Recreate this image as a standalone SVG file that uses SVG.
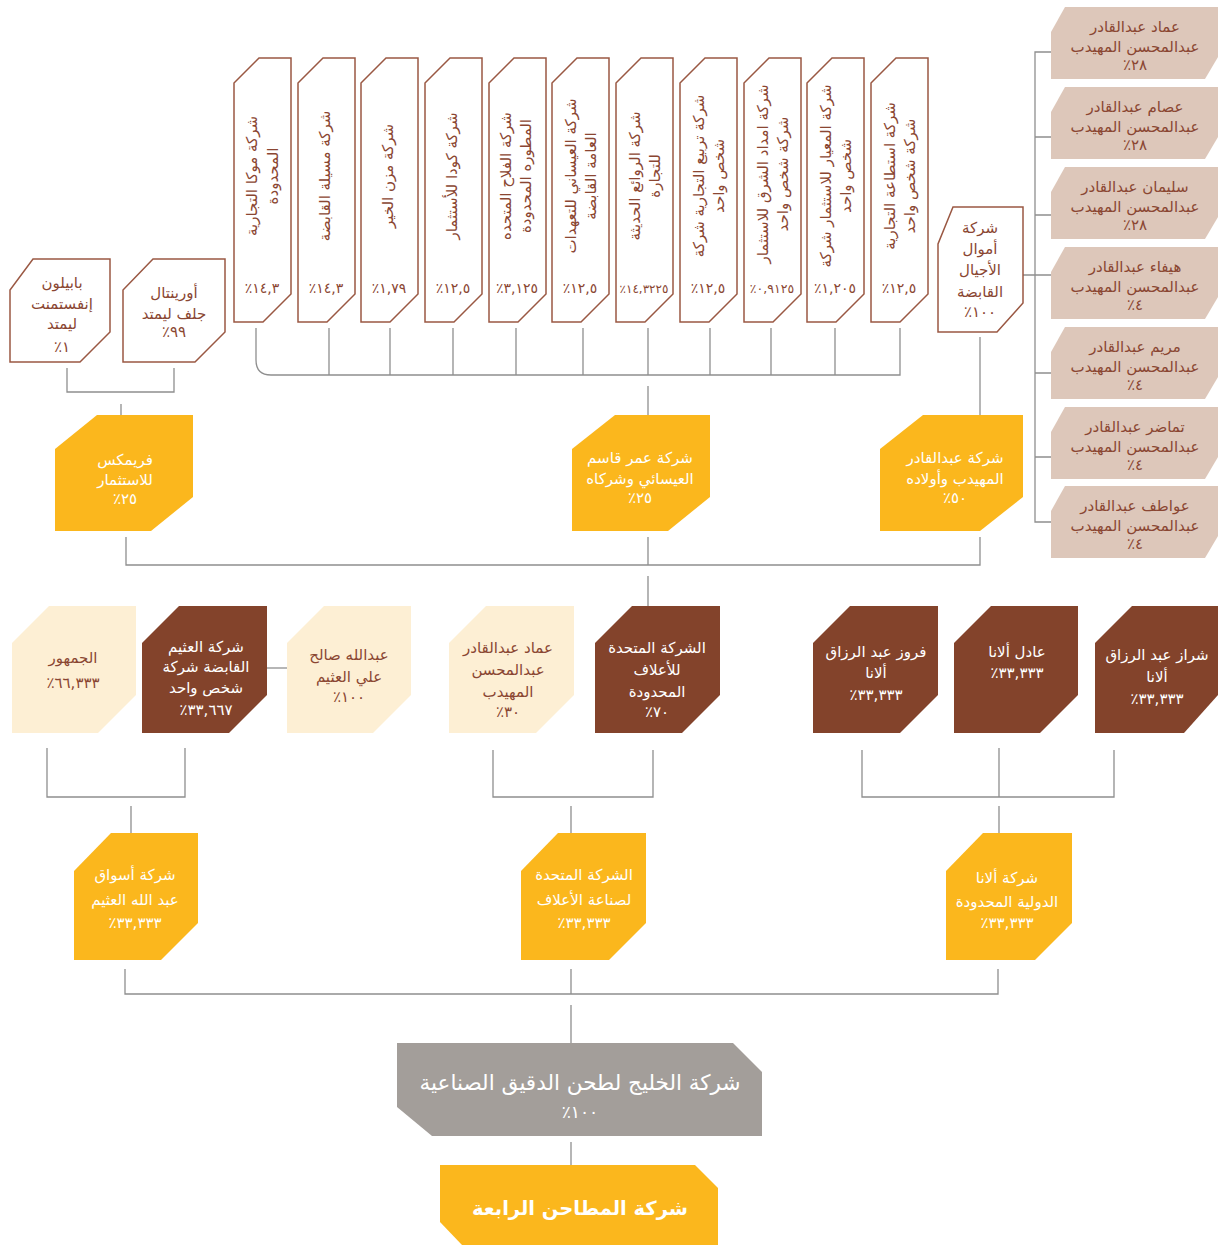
<svg xmlns="http://www.w3.org/2000/svg" width="1218" height="1245" viewBox="0 0 1218 1245">
<style>
text{font-family:"DejaVu Sans",sans-serif;text-anchor:middle;font-size:15px}
.b{fill:#8a4632}
.w{fill:#fff}
.pc{font-size:14px;letter-spacing:1px}
.ob{fill:#fff;stroke:#9a5843;stroke-width:1.5}
.y{fill:#fbb71d}
.db{fill:#83432b}
.cr{fill:#fdefd4}
.tp{fill:#ddc7ba}
.gr{fill:#a39e9a}
.ln{stroke:#8f8f8f;stroke-width:1.3;fill:none}
</style>
<rect width="1218" height="1245" fill="#fff"/>
<g id="connectors" class="ln">
<path d="M256,328 V360 Q256,375 271,375 H900 V328"/>
<path d="M329,328V375 M390,328V375 M453,328V375 M516,328V375 M583,328V375 M648,328V375 M710,328V375 M771,328V375 M835,328V375"/>
<path d="M648,386 V415"/>
<path d="M67,368 V392 H174 V368 M121,404 V415"/>
<path d="M980,337 V415"/>
<path d="M1051,52 H1035 V522 H1051 M1035,137 H1051 M1035,215 H1051 M1023,275 H1051 M1035,373 H1051 M1035,457 H1051"/>
<path d="M126,537 V565 H980 V537 M648,537 V565 M648,576 V606"/>
<path d="M267,668 H287"/>
<path d="M47,748 V797 H185 V748 M131,806 V833"/>
<path d="M493,750 V797 H653 V750 M571,806 V833"/>
<path d="M862,750 V797 H1114 V750 M999,748 V797 M999,806 V833"/>
<path d="M125,969 V994 H998 V969 M571,969 V994 M571,1005 V1043"/>
<path d="M571,1142 V1165"/>
</g>
<g id="babylon">
<polygon class="ob" points="33,259 110,259 110,332 80,362 10,362 10,290"/>
<text class="b" x="62" y="288">بابيلون</text>
<text class="b" x="62" y="309">إنفستمنت</text>
<text class="b" x="62" y="329">ليمتد</text>
<text class="b" x="62" y="352">٪١</text>
</g>
<g id="oriental">
<polygon class="ob" points="153,259 225,259 225,332 195,362 123,362 123,290"/>
<text class="b" x="174" y="298">أورينتال</text>
<text class="b" x="174" y="319">جلف ليمتد</text>
<text class="b" x="174" y="337">٪٩٩</text>
</g>
<g id="v1">
<polygon class="ob" points="234,83 259,58 291,58 291,294 263,322 234,322"/>
<text class="b" transform="translate(252,176) rotate(-90)" y="5">شركة موكا التجارية</text>
<text class="b" transform="translate(273,176) rotate(-90)" y="5">المحدودة</text>
<text class="b pc" x="262" y="293">٪١٤,٣</text>
</g>
<g id="v2">
<polygon class="ob" points="298,83 323,58 355,58 355,294 327,322 298,322"/>
<text class="b" transform="translate(325,176) rotate(-90)" y="5">شركة مسيلة القابضة</text>
<text class="b pc" x="326" y="293">٪١٤,٣</text>
</g>
<g id="v3">
<polygon class="ob" points="361,83 386,58 418,58 418,294 390,322 361,322"/>
<text class="b" transform="translate(388,176) rotate(-90)" y="5">شركة مزن الخير</text>
<text class="b pc" x="389" y="293">٪١,٧٩</text>
</g>
<g id="v4">
<polygon class="ob" points="425,83 450,58 482,58 482,294 454,322 425,322"/>
<text class="b" transform="translate(452,176) rotate(-90)" y="5">شركة كودا للأستثمار</text>
<text class="b pc" x="453" y="293">٪١٢,٥</text>
</g>
<g id="v5">
<polygon class="ob" points="489,83 514,58 546,58 546,294 518,322 489,322"/>
<text class="b" transform="translate(506,176) rotate(-90)" y="5">شركة الفلاح المتحده</text>
<text class="b" transform="translate(526,176) rotate(-90)" y="5">المطوره المحدودة</text>
<text class="b pc" x="517" y="293">٪٣,١٢٥</text>
</g>
<g id="v6">
<polygon class="ob" points="552,83 577,58 609,58 609,294 581,322 552,322"/>
<text class="b" transform="translate(571,176) rotate(-90)" y="5">شركة العيساني للتعهدات</text>
<text class="b" transform="translate(591,176) rotate(-90)" y="5">العامة القابضة</text>
<text class="b pc" x="580" y="293">٪١٢,٥</text>
</g>
<g id="v7">
<polygon class="ob" points="616,83 641,58 673,58 673,294 645,322 616,322"/>
<text class="b" transform="translate(635,176) rotate(-90)" y="5">شركة الروائع الحديثة</text>
<text class="b" transform="translate(655,176) rotate(-90)" y="5">للتجارة</text>
<text class="b" x="644" y="293" style="font-size:12px">٪١٤,٣٢٢٥</text>
</g>
<g id="v8">
<polygon class="ob" points="680,83 705,58 737,58 737,294 709,322 680,322"/>
<text class="b" transform="translate(699,176) rotate(-90)" y="5">شركة تربيع التجارية شركة</text>
<text class="b" transform="translate(719,176) rotate(-90)" y="5">شخص واحد</text>
<text class="b pc" x="708" y="293">٪١٢,٥</text>
</g>
<g id="v9">
<polygon class="ob" points="744,83 769,58 801,58 801,294 773,322 744,322"/>
<text class="b" transform="translate(763,174) rotate(-90)" y="5">شركة امداد الشرق للاستثمار</text>
<text class="b" transform="translate(783,174) rotate(-90)" y="5">شركة شخص واحد</text>
<text class="b" x="772" y="293" style="font-size:12.5px">٪٠,٩١٢٥</text>
</g>
<g id="v10">
<polygon class="ob" points="807,83 832,58 864,58 864,294 836,322 807,322"/>
<text class="b" transform="translate(826,176) rotate(-90)" y="5">شركة المعيار للاستثمار شركة</text>
<text class="b" transform="translate(846,176) rotate(-90)" y="5">شخص واحد</text>
<text class="b pc" x="835" y="293">٪١,٢٠٥</text>
</g>
<g id="v11">
<polygon class="ob" points="871,83 896,58 928,58 928,294 900,322 871,322"/>
<text class="b" transform="translate(890,176) rotate(-90)" y="5">شركة استطاعة التجارية</text>
<text class="b" transform="translate(910,176) rotate(-90)" y="5">شركة شخص واحد</text>
<text class="b pc" x="899" y="293">٪١٢,٥</text>
</g>
<g id="amwal">
<polygon class="ob" points="953,207 1023,207 1023,303 997,332 938,332 938,244"/>
<text class="b" x="980" y="233">شركة</text>
<text class="b" x="980" y="254">أموال</text>
<text class="b" x="980" y="275">الأجيال</text>
<text class="b" x="980" y="297">القابضة</text>
<text class="b" x="980" y="317">٪١٠٠</text>
</g>
<g id="p1">
<polygon class="tp" points="1051,32 1065,7 1218,7 1218,57 1205,79 1051,79"/>
<text class="b" x="1135" y="32">عماد عبدالقادر</text>
<text class="b" x="1135" y="52">عبدالمحسن المهيدب</text>
<text class="b" x="1135" y="70">٪٢٨</text>
</g>
<g id="p2">
<polygon class="tp" points="1051,112 1065,87 1218,87 1218,137 1205,159 1051,159"/>
<text class="b" x="1135" y="112">عصام عبدالقادر</text>
<text class="b" x="1135" y="132">عبدالمحسن المهيدب</text>
<text class="b" x="1135" y="150">٪٢٨</text>
</g>
<g id="p3">
<polygon class="tp" points="1051,192 1065,167 1218,167 1218,217 1205,239 1051,239"/>
<text class="b" x="1135" y="192">سليمان عبدالقادر</text>
<text class="b" x="1135" y="212">عبدالمحسن المهيدب</text>
<text class="b" x="1135" y="230">٪٢٨</text>
</g>
<g id="p4">
<polygon class="tp" points="1051,272 1065,247 1218,247 1218,297 1205,319 1051,319"/>
<text class="b" x="1135" y="272">هيفاء عبدالقادر</text>
<text class="b" x="1135" y="292">عبدالمحسن المهيدب</text>
<text class="b" x="1135" y="310">٪٤</text>
</g>
<g id="p5">
<polygon class="tp" points="1051,352 1065,327 1218,327 1218,377 1205,399 1051,399"/>
<text class="b" x="1135" y="352">مريم عبدالقادر</text>
<text class="b" x="1135" y="372">عبدالمحسن المهيدب</text>
<text class="b" x="1135" y="390">٪٤</text>
</g>
<g id="p6">
<polygon class="tp" points="1051,432 1065,407 1218,407 1218,457 1205,479 1051,479"/>
<text class="b" x="1135" y="432">تماضر عبدالقادر</text>
<text class="b" x="1135" y="452">عبدالمحسن المهيدب</text>
<text class="b" x="1135" y="470">٪٤</text>
</g>
<g id="p7">
<polygon class="tp" points="1051,511 1065,486 1218,486 1218,536 1205,558 1051,558"/>
<text class="b" x="1135" y="511">عواطف عبدالقادر</text>
<text class="b" x="1135" y="531">عبدالمحسن المهيدب</text>
<text class="b" x="1135" y="549">٪٤</text>
</g>
<g id="frimex">
<polygon class="y" points="55,449 97,415 193,415 193,497 151,531 55,531"/>
<text class="w" x="125" y="465">فريمكس</text>
<text class="w" x="125" y="485">للاستثمار</text>
<text class="w" x="125" y="504">٪٢٥</text>
</g>
<g id="omar">
<polygon class="y" points="572,449 615,415 710,415 710,497 668,531 572,531"/>
<text class="w" x="640" y="463">شركة عمر قاسم</text>
<text class="w" x="640" y="484">العيسائي وشركاه</text>
<text class="w" x="640" y="503">٪٢٥</text>
</g>
<g id="abdulqader">
<polygon class="y" points="880,449 923,415 1023,415 1023,497 980,531 880,531"/>
<text class="w" x="955" y="463">شركة عبدالقادر</text>
<text class="w" x="955" y="484">المهيدب وأولاده</text>
<text class="w" x="955" y="503">٪٥٠</text>
</g>
<g id="jumhour">
<polygon class="cr" points="12,643 49,606 136,606 136,695 98,733 12,733"/>
<text class="b" x="73" y="663">الجمهور</text>
<text class="b" x="73" y="688">٪٦٦,٣٣٣</text>
</g>
<g id="othaim">
<polygon class="db" points="142,643 179,606 267,606 267,695 229,733 142,733"/>
<text class="w" x="206" y="652">شركة العثيم</text>
<text class="w" x="206" y="672">القابضة شركة</text>
<text class="w" x="206" y="693">شخص واحد</text>
<text class="w" x="206" y="715">٪٣٣,٦٦٧</text>
</g>
<g id="abdullah">
<polygon class="cr" points="287,643 324,606 411,606 411,695 373,733 287,733"/>
<text class="b" x="349" y="660">عبدالله صالح</text>
<text class="b" x="349" y="682">علي العثيم</text>
<text class="b" x="349" y="702">٪١٠٠</text>
</g>
<g id="emad">
<polygon class="cr" points="449,643 486,606 574,606 574,695 536,733 449,733"/>
<text class="b" x="508" y="653">عماد عبدالقادر</text>
<text class="b" x="508" y="675">عبدالمحسن</text>
<text class="b" x="508" y="697">المهيدب</text>
<text class="b" x="508" y="717">٪٣٠</text>
</g>
<g id="united">
<polygon class="db" points="595,643 632,606 720,606 720,695 682,733 595,733"/>
<text class="w" x="657" y="653">الشركة المتحدة</text>
<text class="w" x="657" y="675">للأعلاف</text>
<text class="w" x="657" y="697">المحدودة</text>
<text class="w" x="657" y="717">٪٧٠</text>
</g>
<g id="fairouz">
<polygon class="db" points="813,643 850,606 938,606 938,695 900,733 813,733"/>
<text class="w" x="876" y="657">فروز عبد الرزاق</text>
<text class="w" x="876" y="678">ألانا</text>
<text class="w" x="876" y="700">٪٣٣,٣٣٣</text>
</g>
<g id="adel">
<polygon class="db" points="954,643 991,606 1078,606 1078,695 1040,733 954,733"/>
<text class="w" x="1017" y="657">عادل ألانا</text>
<text class="w" x="1017" y="678">٪٣٣,٣٣٣</text>
</g>
<g id="shiraz">
<polygon class="db" points="1095,643 1132,606 1218,606 1218,695 1184,733 1095,733"/>
<text class="w" x="1157" y="660">شراز عبد الرزاق</text>
<text class="w" x="1157" y="682">ألانا</text>
<text class="w" x="1157" y="704">٪٣٣,٣٣٣</text>
</g>
<g id="aswaq">
<polygon class="y" points="74,871 111,833 198,833 198,923 161,960 74,960"/>
<text class="w" x="135" y="880">شركة أسواق</text>
<text class="w" x="135" y="905">عبد الله العثيم</text>
<text class="w" x="135" y="928">٪٣٣,٣٣٣</text>
</g>
<g id="unitedfeed">
<polygon class="y" points="521,871 558,833 646,833 646,923 609,960 521,960"/>
<text class="w" x="584" y="880">الشركة المتحدة</text>
<text class="w" x="584" y="905">لصناعة الأعلاف</text>
<text class="w" x="584" y="928">٪٣٣,٣٣٣</text>
</g>
<g id="alana">
<polygon class="y" points="946,871 983,833 1072,833 1072,923 1035,960 946,960"/>
<text class="w" x="1007" y="883">شركة ألانا</text>
<text class="w" x="1007" y="907">الدولية المحدودة</text>
<text class="w" x="1007" y="928">٪٣٣,٣٣٣</text>
</g>
<g id="gulf">
<polygon class="gr" points="397,1043 733,1043 762,1072 762,1136 432,1136 397,1107"/>
<text class="w" x="580" y="1090" style="font-size:21.5px">شركة الخليج لطحن الدقيق الصناعية</text>
<text class="w" x="580" y="1118" style="font-size:17px">٪١٠٠</text>
</g>
<g id="fourth">
<polygon class="y" points="440,1165 695,1165 718,1188 718,1245 462,1245 440,1222"/>
<text class="w" x="580" y="1215" style="font-size:19.5px;font-weight:bold">شركة المطاحن الرابعة</text>
</g>
</svg>
